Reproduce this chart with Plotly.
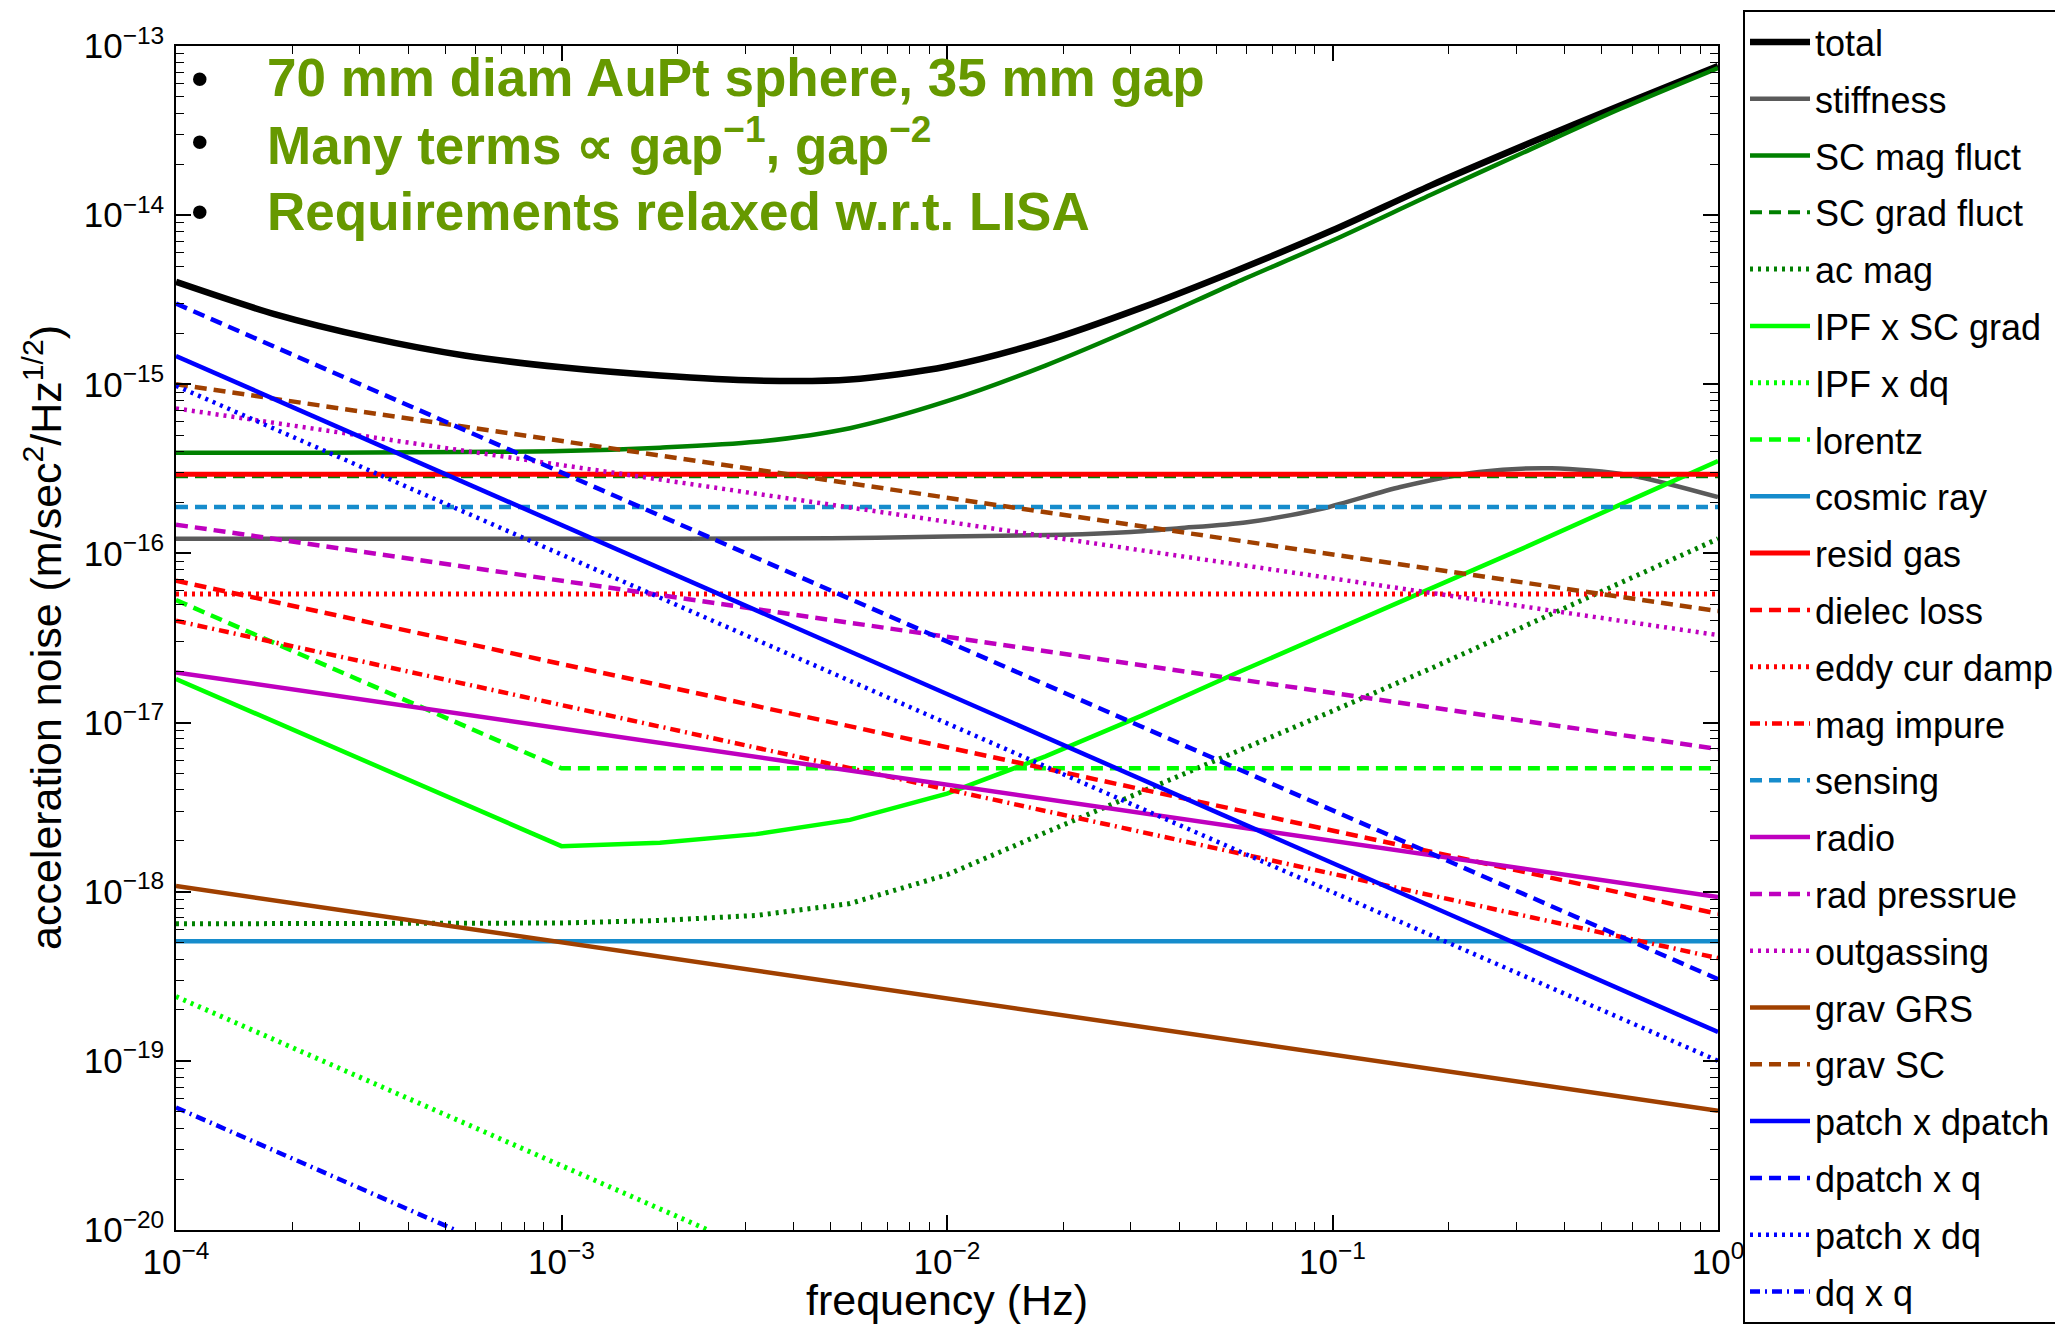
import plotly.graph_objects as go

# ---------------- data ----------------
freq_total = [1e-4, 1.8e-4, 3.2e-4, 5.6e-4, 1e-3, 1.8e-3, 3.2e-3, 5.6e-3, 1e-2,
              1.8e-2, 3.2e-2, 5.6e-2, 0.1, 0.18, 0.32, 0.56, 1.0]
total = [4.03e-15, 2.60e-15, 1.88e-15, 1.48e-15, 1.26e-15, 1.127e-15, 1.052e-15, 1.067e-15,
         1.274e-15, 1.80e-15, 2.84e-15, 4.68e-15, 8.13e-15, 1.50e-14, 2.63e-14, 4.47e-14, 7.62e-14]

freq_stiff = [1e-4, 1e-3, 5e-3, 1e-2, 2e-2, 3e-2, 4e-2, 6e-2, 9.5e-2, 0.15, 0.24, 0.37, 0.59, 1.0]
stiffness = [1.22e-16, 1.22e-16, 1.23e-16, 1.26e-16, 1.29e-16, 1.34e-16, 1.41e-16, 1.53e-16,
             1.85e-16, 2.47e-16, 3.03e-16, 3.19e-16, 2.90e-16, 2.15e-16]

freq_scmag = freq_total
sc_mag_fluct = [3.94e-16, 3.94e-16, 3.95e-16, 3.98e-16, 4.03e-16, 4.22e-16, 4.57e-16, 5.50e-16,
                7.94e-16, 1.29e-15, 2.24e-15, 3.98e-15, 7.08e-15, 1.32e-14, 2.40e-14, 4.27e-14, 7.41e-14]

freq_flat = [1e-4, 1.0]
sc_grad_fluct = [2.86e-16, 2.86e-16]

freq_acmag = [1e-4, 1e-3, 1.8e-3, 3.2e-3, 5.6e-3, 1e-2, 1.8e-2, 3.2e-2, 5.6e-2, 0.1, 0.18, 0.32, 0.56, 1.0]
ac_mag = [6.46e-19, 6.53e-19, 6.76e-19, 7.24e-19, 8.51e-19, 1.26e-18, 2.24e-18, 3.89e-18,
          6.76e-18, 1.17e-17, 2.09e-17, 3.80e-17, 6.76e-17, 1.22e-16]

freq_ipf = [1e-4, 1e-3, 1.8e-3, 3.2e-3, 5.6e-3, 1e-2, 1.8e-2, 3.2e-2, 5.6e-2, 0.1, 0.18, 0.32, 0.56, 1.0]
ipf_x_sc_grad = [1.81e-17, 1.86e-18, 1.95e-18, 2.19e-18, 2.66e-18, 3.80e-18, 6.31e-18, 1.10e-17,
                 1.95e-17, 3.47e-17, 6.17e-17, 1.10e-16, 1.95e-16, 3.52e-16]

freq_ipfdq = [1e-4, 2.4e-3]
ipf_x_dq = [2.4e-19, 1e-20]

freq_lorentz = [1e-4, 1e-3, 1.0]
lorentz = [5.30e-17, 5.37e-18, 5.37e-18]

freq_line = [1e-4, 1.0]
cosmic_ray = [5.1e-19, 5.1e-19]
resid_gas = [2.94e-16, 2.94e-16]
dielec_loss = [6.9e-17, 7.4e-19]
eddy_cur_damp = [5.75e-17, 5.75e-17]
mag_impure = [4.0e-17, 4.05e-19]
sensing = [1.88e-16, 1.88e-16]
radio = [1.98e-17, 9.3e-19]
rad_pressrue = [1.48e-16, 6.97e-18]
outgassing = [7.2e-16, 3.29e-17]
grav_grs = [1.08e-18, 5.07e-20]
grav_sc = [1.0e-15, 4.56e-17]
patch_x_dpatch = [1.47e-15, 1.48e-19]
dpatch_x_q = [3.0e-15, 3.04e-19]
patch_x_dq = [9.8e-16, 1.0e-19]
freq_dqq = [1e-4, 5.3e-4]
dq_x_q = [5.3e-20, 1e-20]

x_ticks = [1e-4, 1e-3, 1e-2, 1e-1, 1.0]
x_tick_text = ["10<sup>−4</sup>", "10<sup>−3</sup>", "10<sup>−2</sup>", "10<sup>−1</sup>", "10<sup>0</sup>"]
y_ticks = [1e-20, 1e-19, 1e-18, 1e-17, 1e-16, 1e-15, 1e-14, 1e-13]
y_tick_text = ["10<sup>−20</sup>", "10<sup>−19</sup>", "10<sup>−18</sup>", "10<sup>−17</sup>",
               "10<sup>−16</sup>", "10<sup>−15</sup>", "10<sup>−14</sup>", "10<sup>−13</sup>"]

x_title = "frequency (Hz)"
y_title = "acceleration noise (m/sec<sup>2</sup>/Hz<sup>1/2</sup>)"
notes = ["70 mm diam AuPt sphere, 35 mm gap",
         "Many terms ∝ gap<sup>−1</sup>, gap<sup>−2</sup>",
         "Requirements relaxed w.r.t. LISA"]

# ---------------- styles ----------------
BLACK = "#000000"; GRAY = "#5a5a5a"; DGREEN = "#008000"; LGREEN = "#00ff00"
SKY = "#168ccc"; RED = "#ff0000"; MAG = "#bf00bf"; BROWN = "#a04000"; BLUE = "#0000ff"
SOLID = "solid"; DASH = "12px,7px"; DOT = "3px,5px"; DASHDOT = "10px,5px,2px,5px"

series = [
    ("total", freq_total, total, BLACK, SOLID, 6.5, "spline"),
    ("stiffness", freq_stiff, stiffness, GRAY, SOLID, 4.5, "spline"),
    ("SC mag fluct", freq_scmag, sc_mag_fluct, DGREEN, SOLID, 4.5, "spline"),
    ("SC grad fluct", freq_flat, sc_grad_fluct, DGREEN, DASH, 4, "linear"),
    ("ac mag", freq_acmag, ac_mag, DGREEN, DOT, 5, "linear"),
    ("IPF x SC grad", freq_ipf, ipf_x_sc_grad, LGREEN, SOLID, 4.5, "linear"),
    ("IPF x dq", freq_ipfdq, ipf_x_dq, LGREEN, DOT, 5, "linear"),
    ("lorentz", freq_lorentz, lorentz, LGREEN, DASH, 4.5, "linear"),
    ("cosmic ray", freq_line, cosmic_ray, SKY, SOLID, 4.5, "linear"),
    ("resid gas", freq_line, resid_gas, RED, SOLID, 5, "linear"),
    ("dielec loss", freq_line, dielec_loss, RED, DASH, 4.5, "linear"),
    ("eddy cur damp", freq_line, eddy_cur_damp, RED, DOT, 5, "linear"),
    ("mag impure", freq_line, mag_impure, RED, DASHDOT, 4.5, "linear"),
    ("sensing", freq_line, sensing, SKY, DASH, 4.5, "linear"),
    ("radio", freq_line, radio, MAG, SOLID, 4.5, "linear"),
    ("rad pressrue", freq_line, rad_pressrue, MAG, DASH, 4.5, "linear"),
    ("outgassing", freq_line, outgassing, MAG, DOT, 4.5, "linear"),
    ("grav GRS", freq_line, grav_grs, BROWN, SOLID, 4.5, "linear"),
    ("grav SC", freq_line, grav_sc, BROWN, DASH, 4.5, "linear"),
    ("patch x dpatch", freq_line, patch_x_dpatch, BLUE, SOLID, 4.5, "linear"),
    ("dpatch x q", freq_line, dpatch_x_q, BLUE, DASH, 4.5, "linear"),
    ("patch x dq", freq_line, patch_x_dq, BLUE, DOT, 4.5, "linear"),
    ("dq x q", freq_dqq, dq_x_q, BLUE, DASHDOT, 4.5, "linear"),
]

fig = go.Figure()
for name, fx, fy, col, dash, w, shape in series:
    line = dict(color=col, dash=dash, width=w, shape=shape)
    if shape == "spline":
        line["smoothing"] = 0.8
    fig.add_trace(go.Scatter(x=fx, y=fy, mode="lines", name=name, legendgroup=name, line=line))

W, H = 2063, 1324
L, R, T, B = 168, 1710, 38, 1222
pw, ph = R - L, B - T

def px(x):
    return (x - L) / pw

def py(y):
    return (B - y) / ph

FONT = "Liberation Sans, Arial, Helvetica, sans-serif"

minor_x = [m * 10.0 ** e for e in range(-4, 0) for m in range(2, 10)]
minor_y = [m * 10.0 ** e for e in range(-20, -13) for m in range(2, 10)]

axis_common = dict(
    type="log", showgrid=False, zeroline=False, showline=True, linecolor="black", linewidth=1.5,
    mirror="ticks", ticks="inside", ticklen=15, tickwidth=1.5, tickcolor="black",
    tickfont=dict(family=FONT, size=35, color="black"),
)

fig.update_xaxes(**axis_common, range=[-4, 0], tickmode="array", tickvals=x_ticks, ticktext=x_tick_text,
                 minor=dict(tickmode="array", tickvals=minor_x, ticks="inside", ticklen=8, tickwidth=1.2,
                            tickcolor="black", showgrid=False),
                 ticklabelstandoff=0)
fig.update_yaxes(**axis_common, range=[-20, -13], tickmode="array", tickvals=y_ticks, ticktext=y_tick_text,
                 minor=dict(tickmode="array", tickvals=minor_y, ticks="inside", ticklen=8, tickwidth=1.2,
                            tickcolor="black", showgrid=False),
                 ticklabelstandoff=3)

# axis titles
fig.add_annotation(x=0.5, y=py(1292), xref="paper", yref="paper", text=x_title, showarrow=False,
                   xanchor="center", yanchor="middle", font=dict(family=FONT, size=43, color="black"))
fig.add_annotation(x=px(35), y=0.5, xref="paper", yref="paper", text=y_title, showarrow=False,
                   textangle=-90, xanchor="center", yanchor="middle",
                   font=dict(family=FONT, size=43, color="black"))

note_y = [70, 133, 203]
for txt, yy in zip(notes, note_y):
    fig.add_annotation(x=px(192), y=py(yy + 1), xref="paper", yref="paper", text="•", showarrow=False,
                       xanchor="center", yanchor="middle", font=dict(family=FONT, size=50, color="black"))
    fig.add_annotation(x=px(257), y=py(yy), xref="paper", yref="paper", text="<b>" + txt + "</b>",
                       showarrow=False, xanchor="left", yanchor="middle",
                       font=dict(family=FONT, size=53, color="#669900"))

fig.update_layout(
    width=W, height=H,
    margin=dict(l=L, r=W - R, t=T, b=H - B, autoexpand=False),
    paper_bgcolor="white", plot_bgcolor="white",
    font=dict(family=FONT, size=36, color="black"),
    showlegend=True,
    legend=dict(x=px(1735), y=py(2), xanchor="left", yanchor="top", bgcolor="white",
                bordercolor="black", borderwidth=2, font=dict(family=FONT, size=36, color="black"),
                tracegroupgap=7, itemwidth=60, traceorder="grouped", maxheight=1324),
)

fig.write_html("out.html")
